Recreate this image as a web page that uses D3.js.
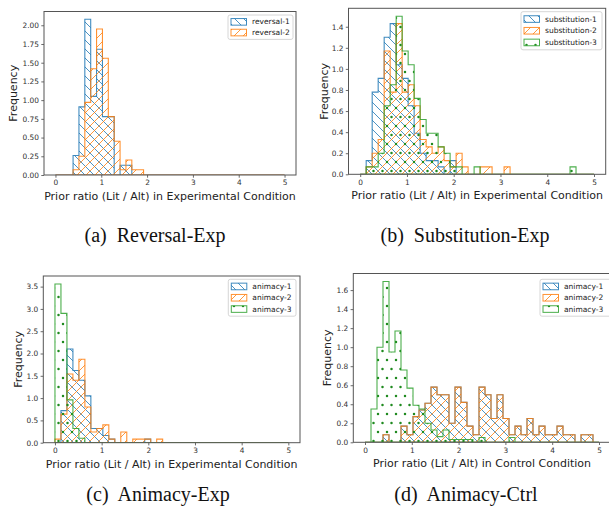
<!DOCTYPE html>
<html>
<head>
<meta charset="utf-8">
<script src="https://cdn.jsdelivr.net/npm/d3@7"></script>
<style>
  body { margin: 0; background: #fff; }
  svg { display: block; font-family: "DejaVu Sans", sans-serif; }
</style>
</head>
<body>
<svg id="chart" width="609" height="509"></svg>
<script>
// 39 equal-width bins between 0 and 5 (shared by every histogram)
const binCount = 39;
const binMax = 5;
const xTicks = [0, 1, 2, 3, 4, 5];

// (a) Reversal-Exp  -- density per bin, first value sits in bin *Start
const reversal1Start = 3;
const reversal1 = [0.26, 0.91, 2.08, 1.05, 1.68, 0.78, 0.78, 0, 0.13, 0.13];
const reversal2Start = 3;
const reversal2 = [0.07, 0.25, 0.97, 1.42, 1.95, 1.56, 0.78, 0.45, 0.07, 0.20, 0.07, 0.07];
const reversalYTicks = [0, 0.25, 0.5, 0.75, 1.0, 1.25, 1.5, 1.75, 2.0];

// (b) Substitution-Exp
const substitution1Start = 1;
const substitution1 = [0.13, 0.78, 0.91, 1.30, 1.43, 1.04, 0.91, 0.65, 0.39, 0.20, 0.13, 0.13, 0.07, 0, 0.13];
const substitution2Start = 1;
const substitution2 = [0.07, 0.20, 0.33, 1.17, 0.78, 1.43, 0.78, 0.85, 0.65, 0.33, 0.26, 0.20, 0.26, 0.13, 0.07,
  0.20, 0.07, 0, 0, 0.07, 0.07, 0, 0, 0.07];
const substitution3Start = 1;
const substitution3 = [0.07, 0.07, 0.20, 0.65, 0.85, 1.50, 1.17, 1.04, 0.72, 0.52, 0.39, 0.39, 0.26, 0.20, 0.07,
  0.07, 0, 0, 0.07, 0, 0, 0, 0, 0, 0, 0, 0, 0, 0, 0, 0, 0, 0, 0, 0.07];
const substitutionYTicks = [0, 0.2, 0.4, 0.6, 0.8, 1.0, 1.2, 1.4];

// (c) Animacy-Exp
const animacyExp1Start = 1;
const animacyExp1 = [0.72, 2.10, 1.62, 1.40, 1.05, 0.32, 0.32, 0.16, 0.08, 0, 0, 0, 0, 0, 0.08];
const animacyExp2Start = 0;
const animacyExp2 = [0.08, 0.64, 1.54, 1.40, 1.87, 0.80, 0.24, 0.32, 0.40, 0.08, 0, 0.24, 0, 0.08, 0.08, 0.08, 0, 0.08];
const animacyExp3Start = 0;
const animacyExp3 = [3.56, 2.90, 0.96, 0.32, 0.10];
const animacyExpYTicks = [0, 0.5, 1.0, 1.5, 2.0, 2.5, 3.0, 3.5];

// (d) Animacy-Ctrl
const animacyCtrl1Start = 3;
const animacyCtrl1 = [0.08, 0, 0, 0.17, 0.08, 0.27, 0.34, 0.41, 0.58, 0.50, 0.50, 0.20, 0.58, 0.42, 0.17, 0.08,
  0.58, 0.50, 0.25, 0.50, 0.25, 0.08, 0.17, 0.08, 0.25, 0.08, 0.17, 0.08, 0.08, 0.17, 0.08, 0.08, 0, 0.08, 0.08];
const animacyCtrl2Start = 3;
const animacyCtrl2 = [0.08, 0, 0, 0.17, 0.08, 0.27, 0.34, 0.41, 0.58, 0.50, 0.50, 0.20, 0.58, 0.42, 0.17, 0.08,
  0.58, 0.50, 0.25, 0.50, 0.25, 0.08, 0.17, 0.08, 0.25, 0.08, 0.17, 0.08, 0.08, 0.17, 0.08, 0.08, 0, 0.08, 0.08];
const animacyCtrl3Start = 1;
const animacyCtrl3 = [0.35, 1.00, 1.69, 0.95, 1.17, 0.76, 0.57, 0.39, 0.35, 0.20, 0.13, 0.06, 0.13, 0.03, 0.03,
  0.03, 0.03, 0, 0.05, 0, 0, 0, 0, 0.05];
const animacyCtrlYTicks = [0, 0.2, 0.4, 0.6, 0.8, 1.0, 1.2, 1.4, 1.6];

const blue = "#1f77b4", orange = "#ff7f0e", green = "#2ca02c";

const panels = [
  {
    box: { left: 44, right: 296, top: 11.5, bottom: 175 },
    yFormat: ".2f", yTicks: reversalYTicks,
    xLabel: "Prior ratio (Lit / Alt) in Experimental Condition", xLabelY: 200, yLabelX: 13,
    legend: { x: 228, y: 15, w: 65, rowH: 10.7 },
    caption: "(a)  Reversal-Exp", capX: 155, capY: 242,
    series: [
      { name: "reversal-1", start: reversal1Start, values: reversal1, color: blue, hatch: "back" },
      { name: "reversal-2", start: reversal2Start, values: reversal2, color: orange, hatch: "slash" }
    ]
  },
  {
    box: { left: 348.5, right: 605.7, top: 8.3, bottom: 174.3 },
    yFormat: ".1f", yTicks: substitutionYTicks,
    xLabel: "Prior ratio (Lit / Alt) in Experimental Condition", xLabelY: 199, yLabelX: 324,
    legend: { x: 521, y: 11.7, w: 81, rowH: 11.7 },
    caption: "(b)  Substitution-Exp", capX: 465, capY: 242,
    series: [
      { name: "substitution-1", start: substitution1Start, values: substitution1, color: blue, hatch: "back" },
      { name: "substitution-2", start: substitution2Start, values: substitution2, color: orange, hatch: "slash" },
      { name: "substitution-3", start: substitution3Start, values: substitution3, color: green, hatch: "dots" }
    ]
  },
  {
    box: { left: 43.3, right: 300, top: 276, bottom: 442.7 },
    yFormat: ".1f", yTicks: animacyExpYTicks,
    xLabel: "Prior ratio (Lit / Alt) in Experimental Condition", xLabelY: 467.5, yLabelX: 18.3,
    legend: { x: 228.3, y: 279.3, w: 67.7, rowH: 11.3 },
    caption: "(c)  Animacy-Exp", capX: 158, capY: 501,
    series: [
      { name: "animacy-1", start: animacyExp1Start, values: animacyExp1, color: blue, hatch: "back" },
      { name: "animacy-2", start: animacyExp2Start, values: animacyExp2, color: orange, hatch: "slash" },
      { name: "animacy-3", start: animacyExp3Start, values: animacyExp3, color: green, hatch: "dots" }
    ]
  },
  {
    box: { left: 353.3, right: 610.7, top: 273.5, bottom: 442.3 },
    yFormat: ".1f", yTicks: animacyCtrlYTicks,
    xLabel: "Prior ratio (Lit / Alt) in Control Condition", xLabelY: 467, yLabelX: 327.3,
    legend: { x: 540, y: 279.3, w: 72, rowH: 11.3 },
    caption: "(d)  Animacy-Ctrl", capX: 466, capY: 501,
    series: [
      { name: "animacy-1", start: animacyCtrl1Start, values: animacyCtrl1, color: blue, hatch: "back" },
      { name: "animacy-2", start: animacyCtrl2Start, values: animacyCtrl2, color: orange, hatch: "slash" },
      { name: "animacy-3", start: animacyCtrl3Start, values: animacyCtrl3, color: green, hatch: "dots" }
    ]
  }
];

const svg = d3.select("#chart");
const defs = svg.append("defs");

// hatch patterns (period roughly 1/6 inch of the original figure)
const p = 9;
const hw = 0.8;
defs.append("pattern").attr("id", "hatch-back").attr("patternUnits", "userSpaceOnUse")
  .attr("width", p).attr("height", p)
  .append("path")
  .attr("d", `M0,0L${p},${p}M-1,${p - 1}L1,${p + 1}M${p - 1},-1L${p + 1},1`)
  .attr("stroke", blue).attr("stroke-width", hw).attr("fill", "none");
defs.append("pattern").attr("id", "hatch-slash").attr("patternUnits", "userSpaceOnUse")
  .attr("width", p).attr("height", p)
  .append("path")
  .attr("d", `M0,${p}L${p},0M-1,1L1,-1M${p - 1},${p + 1}L${p + 1},${p - 1}`)
  .attr("stroke", orange).attr("stroke-width", hw).attr("fill", "none");
const dotPat = defs.append("pattern").attr("id", "hatch-dots").attr("patternUnits", "userSpaceOnUse")
  .attr("width", p).attr("height", 2 * p);
[[0, 0], [p, 0], [0, 2 * p], [p, 2 * p], [p / 2, p]].forEach(([cx, cy]) => {
  dotPat.append("circle").attr("cx", cx).attr("cy", cy).attr("r", 1.25).attr("fill", "#1f8a1f");
});

const edges = d3.range(binCount + 1).map(i => i * binMax / binCount);

panels.forEach((panel) => {
  const b = panel.box;
  const g = svg.append("g");

  // expand each series into the full bin array
  panel.series.forEach(s => {
    s.full = d3.range(binCount).map(i => (i >= s.start && i - s.start < s.values.length) ? s.values[i - s.start] : 0);
  });
  const yMax = d3.max(panel.series, s => d3.max(s.full)) * 1.05;

  const x = d3.scaleLinear().domain([-0.25, 5.25]).range([b.left, b.right]);
  const y = d3.scaleLinear().domain([0, yMax]).range([b.bottom, b.top]);

  const clipId = "clip" + panel.caption.charAt(1);
  defs.append("clipPath").attr("id", clipId)
    .append("rect").attr("x", b.left).attr("y", b.top)
    .attr("width", b.right - b.left).attr("height", b.bottom - b.top);

  const line = d3.line().x(d => x(d[0])).y(d => y(d[1]));

  const plot = g.append("g").attr("clip-path", `url(#${clipId})`);
  panel.series.forEach(s => {
    const pts = [[0, 0]];
    s.full.forEach((h, i) => { pts.push([edges[i], h]); pts.push([edges[i + 1], h]); });
    pts.push([binMax, 0]);
    plot.append("path")
      .attr("d", line(pts) + "Z")
      .attr("fill", `url(#hatch-${s.hatch})`)
      .attr("stroke", s.color)
      .attr("stroke-opacity", 0.85)
      .attr("stroke-width", 1.1)
      .attr("stroke-linejoin", "miter");
  });

  // axes
  const xAxis = g.append("g").attr("transform", `translate(0,${b.bottom})`)
    .call(d3.axisBottom(x).tickValues(xTicks).tickFormat(d3.format("d")).tickSize(2.7).tickPadding(2.3));
  const yAxis = g.append("g").attr("transform", `translate(${b.left},0)`)
    .call(d3.axisLeft(y).tickValues(panel.yTicks).tickFormat(d3.format(panel.yFormat)).tickSize(2.7).tickPadding(2.3));
  [xAxis, yAxis].forEach(a => {
    a.select(".domain").remove();
    a.selectAll(".tick line").attr("stroke", "#444").attr("stroke-width", 0.8);
    a.selectAll(".tick text").attr("fill", "#333").style("font-size", "7.4px")
      .style("font-family", "DejaVu Sans, sans-serif");
  });

  // frame
  g.append("rect")
    .attr("x", b.left).attr("y", b.top)
    .attr("width", b.right - b.left).attr("height", b.bottom - b.top)
    .attr("fill", "none").attr("stroke", "#555").attr("stroke-width", 1);

  // axis labels
  g.append("text")
    .attr("x", (b.left + b.right) / 2).attr("y", panel.xLabelY)
    .attr("text-anchor", "middle").attr("fill", "#222")
    .style("font-size", "11px")
    .text(panel.xLabel);
  g.append("text")
    .attr("transform", `translate(${panel.yLabelX},${(b.top + b.bottom) / 2}) rotate(-90)`)
    .attr("text-anchor", "middle").attr("dominant-baseline", "central").attr("fill", "#222")
    .style("font-size", "11px")
    .text("Frequency");

  // legend
  const lg = panel.legend;
  const lh = panel.series.length * lg.rowH + 3;
  const leg = g.append("g");
  leg.append("rect")
    .attr("x", lg.x).attr("y", lg.y).attr("width", lg.w).attr("height", lh)
    .attr("rx", 2).attr("fill", "#fff").attr("fill-opacity", 0.8)
    .attr("stroke", "#ccc").attr("stroke-width", 0.8);
  panel.series.forEach((s, i) => {
    const cy = lg.y + 1.5 + lg.rowH * (i + 0.5);
    leg.append("rect")
      .attr("x", lg.x + 3).attr("y", cy - 3.3).attr("width", 15.5).attr("height", 6.6)
      .attr("fill", `url(#hatch-${s.hatch})`)
      .attr("stroke", s.color).attr("stroke-opacity", 0.85).attr("stroke-width", 1);
    leg.append("text")
      .attr("x", lg.x + 24).attr("y", cy)
      .attr("dominant-baseline", "central").attr("fill", "#222")
      .style("font-size", "7.5px")
      .text(s.name);
  });

  // caption
  svg.append("text")
    .attr("x", panel.capX).attr("y", panel.capY)
    .attr("text-anchor", "middle").attr("fill", "#111")
    .style("font-family", "Liberation Serif, serif").style("font-size", "20px")
    .style("white-space", "pre")
    .text(panel.caption);
});
</script>
</body>
</html>
